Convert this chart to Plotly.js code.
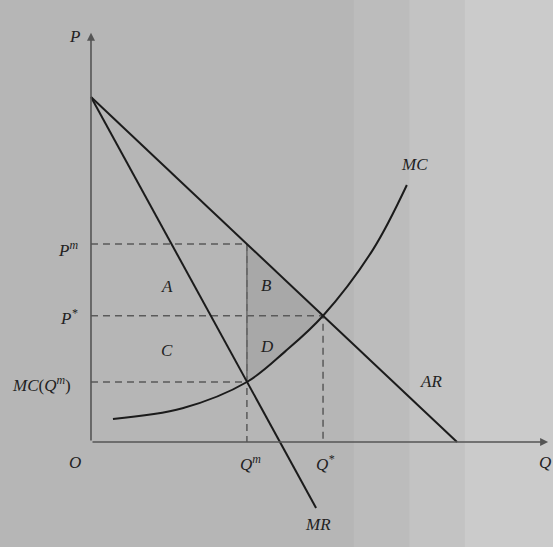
<!DOCTYPE html>
<html><head><meta charset="utf-8">
<script src="https://cdn.plot.ly/plotly-3.0.1.min.js"></script>
<style>html,body{margin:0;padding:0;background:#b6b6b6;}#c{width:553px;height:547px;}</style>
</head><body><div id="c"></div>
<script>
// Demand (AR) and marginal revenue (MR) lines
const arQ = [0, 10];
const arP = [10, 0];
const mrQ = [0, 6.15];
const mrP = [10, -1.91];
// Marginal cost curve
const mcQ = [0.6, 2.5, 4.26, 5.3, 6.34, 7.7, 8.63];
const mcP = [0.67, 0.98, 1.74, 2.62, 3.66, 5.57, 7.45];
// Key points
const Qm = 4.26, Pm = 5.74, MCm = 1.74;
const Qs = 6.34, Ps = 3.66;
// Labels
const regionLabels = ['A', 'B', 'C', 'D'];

const ink = '#1b1b1b', dashc = '#5a5a5a';
const fnt = {family: 'Liberation Serif, DejaVu Serif, serif', size: 17, color: '#222'};

// Shaded area: along AR from Qm to Qs, back along MC to Qm
const shQ = [Qm, Qs], shP = [Pm, Ps];
for (let i = mcQ.length - 1; i >= 0; i--) {
  if (mcQ[i] <= Qs && mcQ[i] >= Qm) { shQ.push(mcQ[i]); shP.push(mcP[i]); }
}
shQ.push(Qm); shP.push(Pm);

const traces = [
  {x: shQ, y: shP, mode: 'lines', fill: 'toself', fillcolor: 'rgba(120,120,120,0.22)', line: {width: 0}, hoverinfo: 'skip'},
  {x: [0, Qm, Qm, Qm], y: [Pm, Pm, Pm, 0], mode: 'lines', line: {color: dashc, width: 1.5, dash: '7px,5px'}},
  {x: [0, Qs, Qs, Qs], y: [Ps, Ps, Ps, 0], mode: 'lines', line: {color: dashc, width: 1.5, dash: '7px,5px'}},
  {x: [0, Qm], y: [MCm, MCm], mode: 'lines', line: {color: dashc, width: 1.5, dash: '7px,5px'}},
  {x: [Qm, Qm], y: [Pm, MCm], mode: 'lines', line: {color: '#6a6a6a', width: 1.5}},
  {x: arQ, y: arP, mode: 'lines', line: {color: ink, width: 2}},
  {x: mrQ, y: mrP, mode: 'lines', line: {color: ink, width: 2}},
  {x: mcQ, y: mcP, mode: 'lines', line: {color: ink, width: 2, shape: 'spline', smoothing: 1}}
];

const ann = [
  // axes with arrows
  {x: 12.49, y: 0, ax: 0, ay: 0, axref: 'x', ayref: 'y', xref: 'x', yref: 'y', text: '', showarrow: true, arrowhead: 2, arrowsize: 1, arrowwidth: 1.6, arrowcolor: '#555'},
  {x: 0, y: 11.86, ax: 0, ay: 0, axref: 'x', ayref: 'y', xref: 'x', yref: 'y', text: '', showarrow: true, arrowhead: 2, arrowsize: 1, arrowwidth: 1.6, arrowcolor: '#555'},
  {x: -0.45, y: 11.75, text: '<i>P</i>'},
  {x: -0.45, y: -0.6, text: '<i>O</i>'},
  {x: 12.4, y: -0.6, text: '<i>Q</i>'},
  {x: Qm + 0.1, y: -0.62, text: '<i>Q<sup>m</sup></i>'},
  {x: Qs + 0.05, y: -0.62, text: '<i>Q<sup>*</sup></i>'},
  {x: -0.62, y: Pm - 0.15, text: '<i>P<sup>m</sup></i>'},
  {x: -0.62, y: Ps - 0.05, text: '<i>P<sup>*</sup></i>'},
  {x: -1.35, y: MCm - 0.05, text: '<i>MC</i>(<i>Q<sup>m</sup></i>)'},
  {x: 8.85, y: 8.05, text: '<i>MC</i>'},
  {x: 9.3, y: 1.75, text: '<i>AR</i>'},
  {x: 6.2, y: -2.4, text: '<i>MR</i>'},
  {x: 2.08, y: 4.5, text: '<i>' + regionLabels[0] + '</i>'},
  {x: 4.8, y: 4.55, text: '<i>' + regionLabels[1] + '</i>'},
  {x: 2.08, y: 2.66, text: '<i>' + regionLabels[2] + '</i>'},
  {x: 4.8, y: 2.77, text: '<i>' + regionLabels[3] + '</i>'}
].map(a => Object.assign({xref: 'x', yref: 'y', showarrow: false, font: fnt}, a));

const bgShapes = [
  {type: 'rect', xref: 'paper', yref: 'paper', x0: 0.64, x1: 0.74, y0: 0, y1: 1, fillcolor: '#bcbcbc', line: {width: 0}, layer: 'below'},
  {type: 'rect', xref: 'paper', yref: 'paper', x0: 0.74, x1: 0.84, y0: 0, y1: 1, fillcolor: '#c3c3c3', line: {width: 0}, layer: 'below'},
  {type: 'rect', xref: 'paper', yref: 'paper', x0: 0.84, x1: 1, y0: 0, y1: 1, fillcolor: '#cbcbcb', line: {width: 0}, layer: 'below'}
];

const layout = {
  width: 553, height: 547,
  margin: {l: 0, r: 0, t: 0, b: 0},
  paper_bgcolor: '#b6b6b6', plot_bgcolor: 'rgba(0,0,0,0)',
  showlegend: false,
  xaxis: {range: [-2.486, 12.623], visible: false, fixedrange: true},
  yaxis: {range: [-3.043, 12.812], visible: false, fixedrange: true},
  annotations: ann,
  shapes: bgShapes
};
Plotly.newPlot('c', traces, layout, {staticPlot: true});
</script></body></html>
